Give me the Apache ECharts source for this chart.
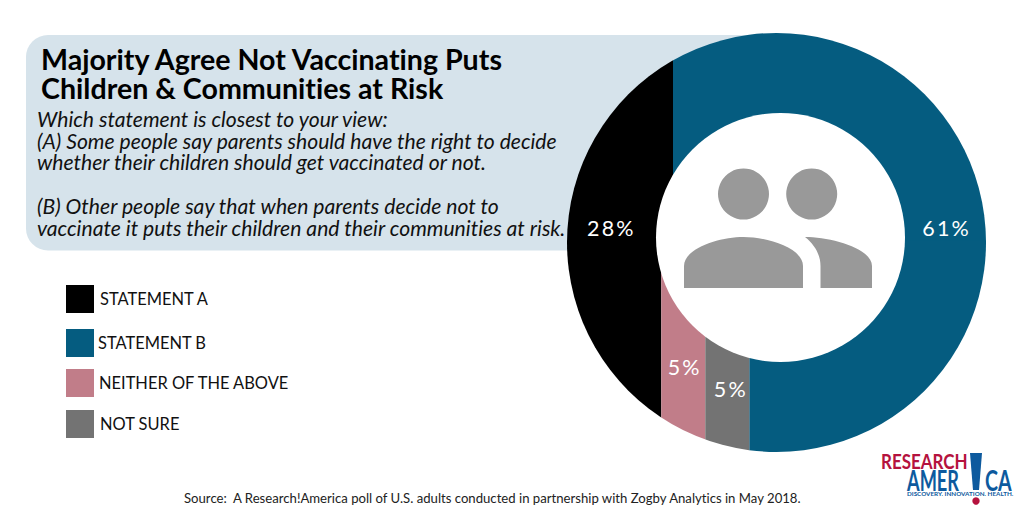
<!DOCTYPE html>
<html><head><meta charset="utf-8">
<style>html,body{margin:0;padding:0;background:#fff}#c{width:1024px;height:512px}
#c text{font-variant-ligatures:none}
#c text[fill="#fff"],#c text[style*="#fff"],#c text[fill="#ffffff"]{letter-spacing:2.2px}
</style>
<script src="https://cdn.jsdelivr.net/npm/echarts@6/dist/echarts.min.js"></script>
</head><body><div id="c"></div>
<script>
// Values
const categories = ['STATEMENT A','STATEMENT B','NEITHER OF THE ABOVE','NOT SURE'];
const shares = [28,61,5,5];
const colors = ['#000000','#055c80','#c17d89','#737373'];
// Each band, in percent of the ring's width/height: [xFrom, xTo, yFrom, yTo]
const bandsA = [[0,25.3,50,100],[0,22.5,0,50.5]];
const bandsB = [[25.3,100,50,100],[43.5,100,0,50.5]];
const bandsC = [[22.5,33,0,50]];
const bandsD = [[33,43.5,0,50]];
const bands = [bandsA,bandsB,bandsC,bandsD];
// Label anchor of each slice, same percent units
const labelAnchors = [[10.6,53.4],[90.6,53.4],[28.1,20.3],[39.1,15]];
const titleLines = 'Majority Agree Not Vaccinating Puts\nChildren & Communities at Risk';
const questionA = 'Which statement is closest to your view:\n(A) Some people say parents should have the right to decide\nwhether their children should get vaccinated or not.';
const questionB = '(B) Other people say that when parents decide not to\nvaccinate it puts their children and their communities at risk.';
const sourceNote = 'Source:  A Research!America poll of U.S. adults conducted in partnership with Zogby Analytics in May 2018.';

const font = 'Lato, "Open Sans", sans-serif';
const ring = {left:567, top:33, size:419};
const legendTops = [285,329,369,410];
const legendPad = [6,4,5,6];

function renderBand(i){
  return function(params, api){
    const b = bands[i][params.dataIndex];
    const p0 = api.coord([b[0], b[3]]), p1 = api.coord([b[1], b[2]]);
    const c = api.coord([50,50]);
    const r = api.size([100,0])[0]/2;
    return {
      type:'rect',
      shape:{x:p0[0], y:p0[1], width:p1[0]-p0[0], height:p1[1]-p0[1]},
      style:{fill:colors[i]},
      clipPath:{type:'circle', shape:{cx:c[0], cy:c[1], r:r}}
    };
  };
}
function renderLabel(params, api){
  const p = api.coord([api.value(0), api.value(1)]);
  return {type:'text', x:p[0], y:p[1], z2:50,
    style:{text:api.value(2)+'%', fill:'#fff', font:'400 21.5px '+font, textAlign:'center', textVerticalAlign:'middle'}};
}
function renderIcon(){
  const g = '#999';
  return {type:'group', children:[
    {type:'circle', shape:{cx:780.5, cy:237.5, r:124.5}, style:{fill:'#fff'}},
    {type:'circle', shape:{cx:743.5, cy:194, r:25.5}, style:{fill:g}},
    {type:'circle', shape:{cx:811.7, cy:194, r:25.5}, style:{fill:g}},
    {type:'path', shape:{pathData:'M684 288 V266 C684 248 720 237 743.5 237 C767 237 803 248 803 266 V288 Z'}, style:{fill:g}},
    {type:'path', shape:{pathData:'M805 237 C830 237 872 248 872 266 V288 H820.5 V266 C820.5 255 815 245 805 237 Z'}, style:{fill:g}}
  ]};
}

const series = categories.map((name,i)=>({
  name, type:'custom', coordinateSystem:'cartesian2d', clip:false, z:2, silent:true,
  itemStyle:{color:colors[i]},
  renderItem:renderBand(i),
  data:bands[i].map(b=>b.slice())
}));
series.push({name:'icon', type:'custom', coordinateSystem:'none', z:5, silent:true, renderItem:renderIcon, data:[[0]]});
series.push({
  name:'labels', type:'custom', coordinateSystem:'cartesian2d', clip:false, z:6, silent:true,
  renderItem:renderLabel,
  data:shares.map((v,i)=>[labelAnchors[i][0],labelAnchors[i][1],v])
});

const chart = echarts.init(document.getElementById('c'),null,{renderer:'svg'});
chart.setOption({
  animation:false,
  backgroundColor:'#fff',
  grid:{left:ring.left, top:ring.top, width:ring.size, height:ring.size, containLabel:false},
  xAxis:{type:'value', min:0, max:100, show:false},
  yAxis:{type:'value', min:0, max:100, show:false},
  title:[
    {text:titleLines, left:41, top:44, padding:0, z:8, textStyle:{fontFamily:font, fontWeight:700, fontSize:28.6, lineHeight:29, color:'#000'}},
    {text:questionA, left:37, top:108, padding:0, z:8, textStyle:{fontFamily:font, fontStyle:'italic', fontWeight:400, fontSize:21.15, lineHeight:21.7, color:'#111'}},
    {text:questionB, left:37, top:195.3, padding:0, z:8, textStyle:{fontFamily:font, fontStyle:'italic', fontWeight:400, fontSize:21.15, lineHeight:21.7, color:'#111'}},
    {text:sourceNote, left:184, top:491, padding:0, z:8, textStyle:{fontFamily:font, fontWeight:400, fontSize:13.15, color:'#222'}}
  ],
  legend:categories.map((name,i)=>({
    data:[{name, icon:'rect'}],
    left:66, top:legendTops[i], padding:0, itemWidth:28, itemHeight:28, selectedMode:false,
    itemGap:0,
    textStyle:{fontFamily:font, fontSize:16.45, color:'#111', padding:[3.6,0,0,legendPad[i]-5]}
  })),
  graphic:{elements:[
    {type:'rect', z:-1, silent:true, shape:{x:26, y:35, width:744, height:215.5, r:[22,0,0,22]}, style:{fill:'#d6e3eb'}},
    {type:'text', z:8, silent:true, x:881, y:460.5, scaleX:0.81, style:{text:'RESEARCH', fill:'#b5123e', font:'700 21px '+font, textVerticalAlign:'middle'}},
    {type:'text', z:8, silent:true, x:907, y:480, scaleX:0.65, style:{text:'AMER', fill:'#0d5a9e', font:'700 28px '+font, textVerticalAlign:'middle'}},
    {type:'text', z:8, silent:true, x:985, y:480, scaleX:0.7, style:{text:'CA', fill:'#0d5a9e', font:'700 28px '+font, textVerticalAlign:'middle'}},
    {type:'polygon', z:8, silent:true, shape:{points:[[970,453],[982,453],[979,490],[973,490]]}, style:{fill:'#0d5a9e'}},
    {type:'circle', z:8, silent:true, shape:{cx:976, cy:501, r:3.7}, style:{fill:'#b5123e'}},
    {type:'text', z:8, silent:true, x:907, y:493.5, style:{text:'DISCOVERY. INNOVATION. HEALTH.', fill:'#0d5a9e', font:'700 6.3px '+font, textVerticalAlign:'middle'}}
  ]},
  series
});
</script></body></html>
